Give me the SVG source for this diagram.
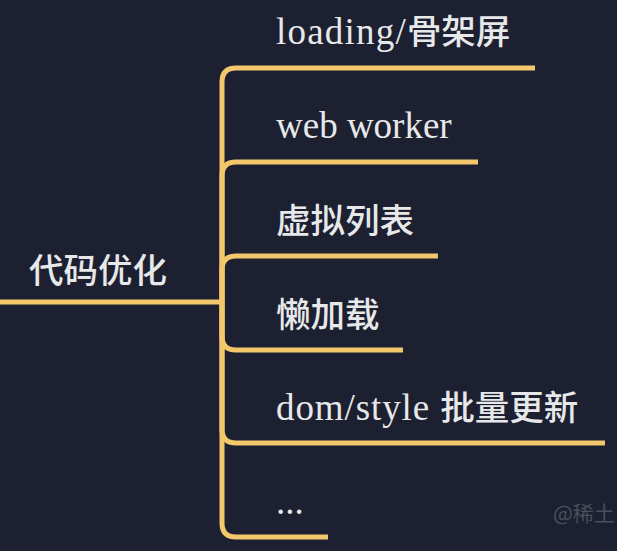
<svg xmlns="http://www.w3.org/2000/svg" width="617" height="551" viewBox="0 0 617 551">
<style>
.bg{fill:#1d2030}
.ln{fill:none;stroke:#f3c76c;stroke-width:5;stroke-linecap:butt;stroke-linejoin:round}
.t{fill:#e6e8ea;font-family:"Liberation Serif","Noto Sans CJK SC",serif;font-size:37px}
.c{fill:#e6e8ea;font-family:"Noto Sans CJK SC","Liberation Sans",sans-serif;font-size:34.5px;font-weight:500}
.k{font-family:"Noto Sans CJK SC",sans-serif;font-size:34.5px;font-weight:500;letter-spacing:0}
.wm{fill:#4a4f5c;font-family:"Noto Sans CJK SC",sans-serif;font-size:21px}
</style>
<rect class="bg" width="617" height="551"/>
<g id="connectors">
<path class="ln" d="M0 302 H222"/>
<path class="ln" d="M222 302 V82 Q222 68 236 68 H535"/>
<path class="ln" d="M222 302 V176 Q222 162 236 162 H478"/>
<path class="ln" d="M222 302 V270 Q222 256 236 256 H438"/>
<path class="ln" d="M222 302 V336 Q222 350 236 350 H403"/>
<path class="ln" d="M222 302 V429 Q222 443 236 443 H605"/>
<path class="ln" d="M222 302 V523 Q222 537 236 537 H328"/>
</g>
<g id="root"><text class="c" x="29" y="283">代码优化</text></g>
<g id="n1"><text class="t" x="276" y="44" letter-spacing="1.2">loading/<tspan class="k">骨架屏</tspan></text></g>
<g id="n2"><text class="t" x="276" y="138">web worker</text></g>
<g id="n3"><text class="c" x="276" y="233">虚拟列表</text></g>
<g id="n4"><text class="c" x="276" y="327">懒加载</text></g>
<g id="n5"><text class="t" x="276" y="420" letter-spacing="0.9">dom/style <tspan class="k">批量更新</tspan></text></g>
<g id="n6"><text class="t" x="276" y="514">...</text></g>
<text class="wm" x="553" y="521">@稀土</text>
</svg>
